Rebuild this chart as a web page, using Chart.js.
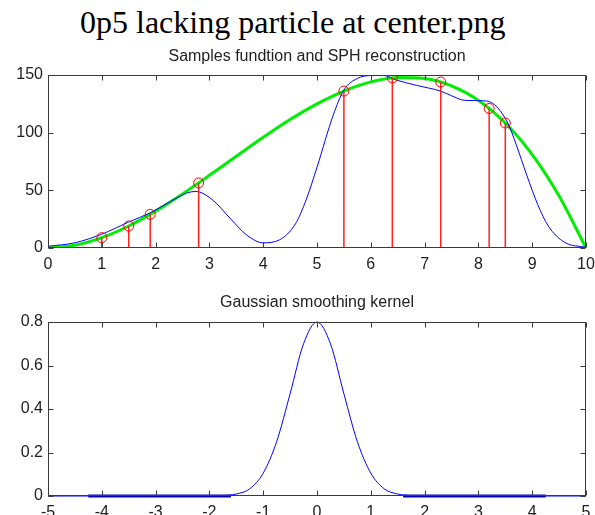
<!DOCTYPE html>
<html>
<head>
<meta charset="utf-8">
<script src="https://cdn.jsdelivr.net/npm/chart.js@4"></script>
<style>
  body { margin: 0; background: #fff; }
  #page { position: relative; width: 595px; height: 515px; overflow: hidden; background: #fff; }
  #mainTitle { position: absolute; left: 80px; top: 6px; font: 32px/32px "Liberation Serif", "Times New Roman", serif; color: #000; white-space: nowrap; }
  .subTitle { position: absolute; left: 48px; width: 538px; text-align: center; font: 16px/18px "Liberation Sans", Arial, sans-serif; color: #222; white-space: nowrap; }
  #title_sph { top: 47px; }
  #title_kernel { top: 293px; }
  canvas { position: absolute; left: 0; display: block; }
  #graph_sph { top: 40px; }
  #graph_kernel { top: 285px; }
</style>
</head>
<body>
<div id="page">
  <div id="mainTitle">0p5 lacking particle at center.png</div>
  <canvas id="graph_sph" width="595" height="235"></canvas>
  <canvas id="graph_kernel" width="595" height="230"></canvas>
  <div class="subTitle" id="title_sph">Samples fundtion and SPH reconstruction</div>
  <div class="subTitle" id="title_kernel">Gaussian smoothing kernel</div>
</div>
<script>
// particle samples (red stems)
var sample_x = [1, 1.5, 1.9, 2.8, 5.5, 6.4, 7.3, 8.2, 8.5];
var sample_y = [9, 19.1, 29.2, 56.4, 136.1, 147.5, 143.9, 121, 108.4];

// sampled function (green)
var exact_x = [0, 0.5, 1, 1.5, 2, 2.5, 3, 3.5, 4, 4.5, 5, 5.5, 6, 6.5, 7, 7.5, 8, 8.5, 9, 9.5, 10];
var exact_y = [0, 2.4, 9, 19.1, 32, 46.9, 63, 79.6, 96, 111.4, 125, 136.1, 144, 147.9, 147, 140.6, 128, 108.4, 81, 45.1, 0];

// SPH reconstruction (blue)
var sph_x = [0, 0.5, 1, 1.5, 1.9, 2.3, 2.6, 2.75, 3.05, 3.4, 3.7, 4.0, 4.3, 4.6, 4.8, 5.0, 5.3, 5.5, 5.75, 6.0, 6.25, 6.45, 6.85, 7.3, 7.5, 7.75, 8.15, 8.35, 8.55, 8.7, 8.9, 9.1, 9.3, 9.6, 10];
var sph_y = [1.5, 4.5, 12, 22.5, 30.5, 41, 48, 49, 42, 25, 11, 4.5, 7, 21, 42, 70, 115, 137, 147, 149.5, 149.5, 146, 141, 136, 132, 128, 127.5, 122, 108, 90, 63, 38, 19, 5, 0.5];

// gaussian kernel
var kernel_x = [-5, -2, -1.75, -1.5, -1.25, -1, -0.75, -0.5, -0.25, 0, 0.25, 0.5, 0.75, 1, 1.25, 1.5, 1.75, 2, 5];
var kernel_y = [0, 0, 0.002, 0.009, 0.033, 0.105, 0.25, 0.47, 0.7, 0.8, 0.7, 0.47, 0.25, 0.105, 0.033, 0.009, 0.002, 0, 0];
// darker flat pieces on the zero line
var flat_start = [-4.25, 1.6];
var flat_end = [-1.6, 4.25];

function toPoints(xs, ys) {
    var pts = [];
    for (var i = 0; i < xs.length; i++) {
        pts.push({x: xs[i], y: ys[i]});
    }
    return pts;
}

var stems = [];
for (var i = 0; i < sample_x.length; i++) {
    stems.push({x: sample_x[i], y: 0});
    stems.push({x: sample_x[i], y: sample_y[i]});
    stems.push({x: sample_x[i], y: NaN});
}

var flats = [];
for (var i = 0; i < flat_start.length; i++) {
    flats.push({x: flat_start[i], y: 0});
    flats.push({x: flat_end[i], y: 0});
    flats.push({x: flat_end[i], y: NaN});
}

// matlab style box with ticks pointing inwards
var inwardTicks = {
    id: 'inwardTicks',
    afterDraw: function(chart) {
        var ctx = chart.ctx;
        var a = chart.chartArea;
        var xs = chart.scales.x;
        var ys = chart.scales.y;
        var left = Math.round(a.left) + 0.5;
        var right = Math.round(a.right) - 0.5;
        var top = Math.round(a.top) + 0.5;
        var bottom = Math.round(a.bottom) - 0.5;
        ctx.save();
        ctx.strokeStyle = '#3a3a3a';
        ctx.lineWidth = 1;
        ctx.beginPath();
        xs.ticks.forEach(function(t) {
            var px = Math.round(xs.getPixelForValue(t.value)) + 0.5;
            ctx.moveTo(px, bottom); ctx.lineTo(px, bottom - 5);
            ctx.moveTo(px, top); ctx.lineTo(px, top + 5);
        });
        ys.ticks.forEach(function(t) {
            var py = Math.round(ys.getPixelForValue(t.value)) + 0.5;
            ctx.moveTo(left, py); ctx.lineTo(left + 5, py);
            ctx.moveTo(right, py); ctx.lineTo(right - 5, py);
        });
        ctx.stroke();
        ctx.strokeRect(left, top, right - left, bottom - top);
        ctx.restore();
    }
};

var tickFont = {family: '"Liberation Sans", Arial, sans-serif', size: 16};

function makeOptions(xmin, xmax, xstep, ymin, ymax, ystep, topPad, xAxisHeight) {
    return {
        responsive: false,
        animation: false,
        events: [],
        layout: {padding: {left: 0, right: 9, top: topPad, bottom: 0}},
        plugins: {
            legend: {display: false},
            tooltip: {enabled: false},
            title: {display: false}
        },
        scales: {
            x: {
                type: 'linear',
                min: xmin, max: xmax,
                grid: {display: false, drawTicks: false},
                border: {display: false},
                ticks: {stepSize: xstep, color: '#222', font: tickFont, padding: 7, maxRotation: 0, autoSkip: false},
                afterFit: function(s) {
                    s.height = xAxisHeight;
                    s.paddingLeft = 0;
                    s.paddingRight = 0;
                }
            },
            y: {
                type: 'linear',
                min: ymin, max: ymax,
                grid: {display: false, drawTicks: false},
                border: {display: false},
                ticks: {stepSize: ystep, color: '#222', font: tickFont, padding: 5},
                afterFit: function(s) {
                    s.width = 48;
                    s.paddingTop = 0;
                    s.paddingBottom = 0;
                }
            }
        }
    };
}

var ctx_sph = document.getElementById("graph_sph").getContext("2d");
var chart_sph = new Chart(ctx_sph, {
    type: 'line',
    data: {
        datasets: [
            {
                label: "samples",
                data: toPoints(sample_x, sample_y),
                showLine: false,
                pointStyle: 'circle',
                pointRadius: 5,
                pointBorderWidth: 1,
                pointBorderColor: "#ff0000",
                pointBackgroundColor: "rgba(0,0,0,0)"
            },
            {
                label: "stems",
                data: stems,
                borderColor: "#ff2020",
                borderWidth: 1.5,
                pointRadius: 0,
                spanGaps: false
            },
            {
                label: "SPH reconstruction",
                data: toPoints(sph_x, sph_y),
                borderColor: "#0000ff",
                borderWidth: 1,
                pointRadius: 0,
                cubicInterpolationMode: 'monotone'
            },
            {
                label: "function",
                data: toPoints(exact_x, exact_y),
                borderColor: "#00ee00",
                borderWidth: 3,
                pointRadius: 0,
                cubicInterpolationMode: 'monotone'
            }
        ]
    },
    options: makeOptions(0, 10, 1, 0, 150, 50, 35, 27),
    plugins: [inwardTicks]
});

var ctx_kernel = document.getElementById("graph_kernel").getContext("2d");
var chart_kernel = new Chart(ctx_kernel, {
    type: 'line',
    data: {
        datasets: [
            {
                label: "flat",
                data: flats,
                borderColor: "#0000b0",
                borderWidth: 3,
                pointRadius: 0,
                spanGaps: false,
                clip: 4
            },
            {
                label: "kernel",
                data: toPoints(kernel_x, kernel_y),
                borderColor: "#0000ff",
                borderWidth: 1,
                pointRadius: 0,
                cubicInterpolationMode: 'monotone',
                clip: 2
            }
        ]
    },
    options: makeOptions(-5, 5, 1, 0, 0.8, 0.2, 37, 19),
    plugins: [inwardTicks]
});
</script>
</body>
</html>
